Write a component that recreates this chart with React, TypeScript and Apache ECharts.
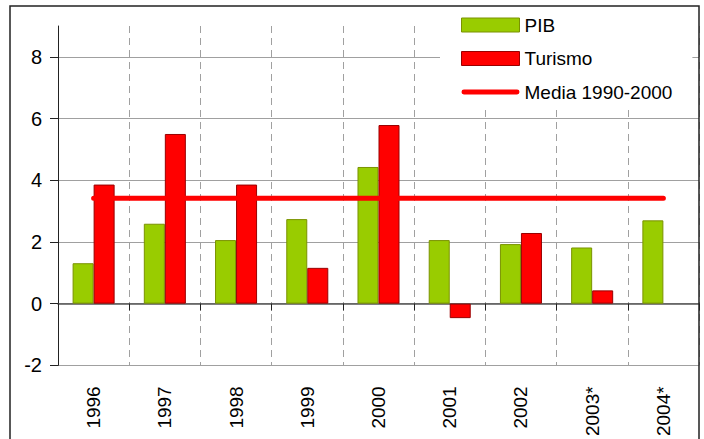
import React, { useEffect, useRef } from "react";
import * as echarts from "echarts";

const years = ["1996", "1997", "1998", "1999", "2000", "2001", "2002", "2003*", "2004*"];
const pibValues = [1.31, 2.59, 2.06, 2.74, 4.43, 2.06, 1.93, 1.82, 2.7];
const turismoValues: (number | null)[] = [3.86, 5.5, 3.86, 1.16, 5.79, -0.47, 2.29, 0.43, null];
const mediaValues = [3.42, 3.42, 3.42, 3.42, 3.42, 3.42, 3.42, 3.42, 3.42];
const seriesNames = ["PIB", "Turismo", "Media 1990-2000"];

const FONT = "'Liberation Sans', Arial, sans-serif";
const LINE_ICON =
  "path://M2.5,0 L57.5,0 A2.5,2.5 0 0 1 57.5,5 L2.5,5 A2.5,2.5 0 0 1 2.5,0 Z";

export default function App() {
  const ref = useRef<HTMLDivElement>(null);
  useEffect(() => {
    if (!ref.current) return;
    const chart = echarts.init(ref.current, null, { renderer: "svg" });
    chart.setOption({
      animation: false,
      backgroundColor: "#ffffff",
      textStyle: { fontFamily: FONT },
      grid: { left: 58, top: 26, width: 641, height: 344, containLabel: false },
      legend: {
        orient: "vertical",
        left: 440,
        top: 6,
        backgroundColor: "#ffffff",
        padding: [9, 20, 8, 21],
        itemWidth: 58,
        itemHeight: 14,
        itemGap: 13.5,
        textStyle: { fontSize: 19, fontFamily: FONT, color: "#000", lineHeight: 20 },
        data: [
          { name: seriesNames[0], icon: "rect", itemStyle: { borderColor: "#7a9200", borderWidth: 1 } },
          { name: seriesNames[1], icon: "rect", itemStyle: { borderColor: "#990000", borderWidth: 1 } },
          { name: seriesNames[2], icon: LINE_ICON, itemStyle: { color: "#ff0000", borderWidth: 0 } },
        ],
      },
      xAxis: [
        {
          type: "category",
          data: years,
          boundaryGap: true,
          position: "bottom",
          axisLine: { show: true, onZero: true, lineStyle: { color: "#555", width: 1.5 } },
          axisTick: { show: true, length: 7, interval: 0, lineStyle: { color: "#222", width: 1 } },
          axisLabel: { show: false },
          splitLine: { show: true, interval: 0, lineStyle: { color: "#a0a0a0", width: 1, type: [7, 5] } },
        },
        {
          type: "category",
          data: years,
          boundaryGap: true,
          position: "bottom",
          axisLine: { show: false, onZero: false },
          axisTick: { show: false },
          splitLine: { show: false },
          axisLabel: { show: true, rotate: 90, margin: 21, fontSize: 19, color: "#000", interval: 0, fontFamily: FONT },
        },
      ],
      yAxis: {
        type: "value",
        min: -2,
        max: 9,
        interval: 2,
        axisLine: { show: true, lineStyle: { color: "#222", width: 1 } },
        axisTick: { show: true, length: 8, lineStyle: { color: "#222" } },
        axisLabel: { fontSize: 20, color: "#000", margin: 16, showMaxLabel: false, fontFamily: FONT },
        splitLine: { show: true, showMaxLine: false, lineStyle: { color: "#a0a0a0", width: 1 } },
      },
      series: [
        {
          name: seriesNames[0],
          type: "bar",
          data: pibValues,
          barWidth: "29.5%",
          barGap: "0%",
          itemStyle: { color: "#99cc00", borderColor: "#7a9200", borderWidth: 1 },
        },
        {
          name: seriesNames[1],
          type: "bar",
          data: turismoValues,
          barWidth: "29.5%",
          barGap: "0%",
          itemStyle: { color: "#ff0000", borderColor: "#990000", borderWidth: 1 },
        },
        {
          name: seriesNames[2],
          type: "line",
          data: mediaValues,
          symbol: "none",
          z: 5,
          lineStyle: { color: "#ff0000", width: 5, cap: "round" },
          itemStyle: { color: "#ff0000" },
        },
      ],
      graphic: [
        {
          type: "rect",
          left: 47,
          top: 24,
          shape: { width: 10.5, height: 4 },
          style: { fill: "#ffffff" },
          z: 100,
        },
        {
          type: "rect",
          shape: { x: 10, y: 6, width: 689, height: 460 },
          style: { fill: "none", stroke: "#222", lineWidth: 1.5 },
          z: 100,
          silent: true,
        },
      ],
    });
    return () => chart.dispose();
  }, []);
  return <div ref={ref} style={{ position: "fixed", left: 0, top: 0, width: 704, height: 439 }} />;
}
